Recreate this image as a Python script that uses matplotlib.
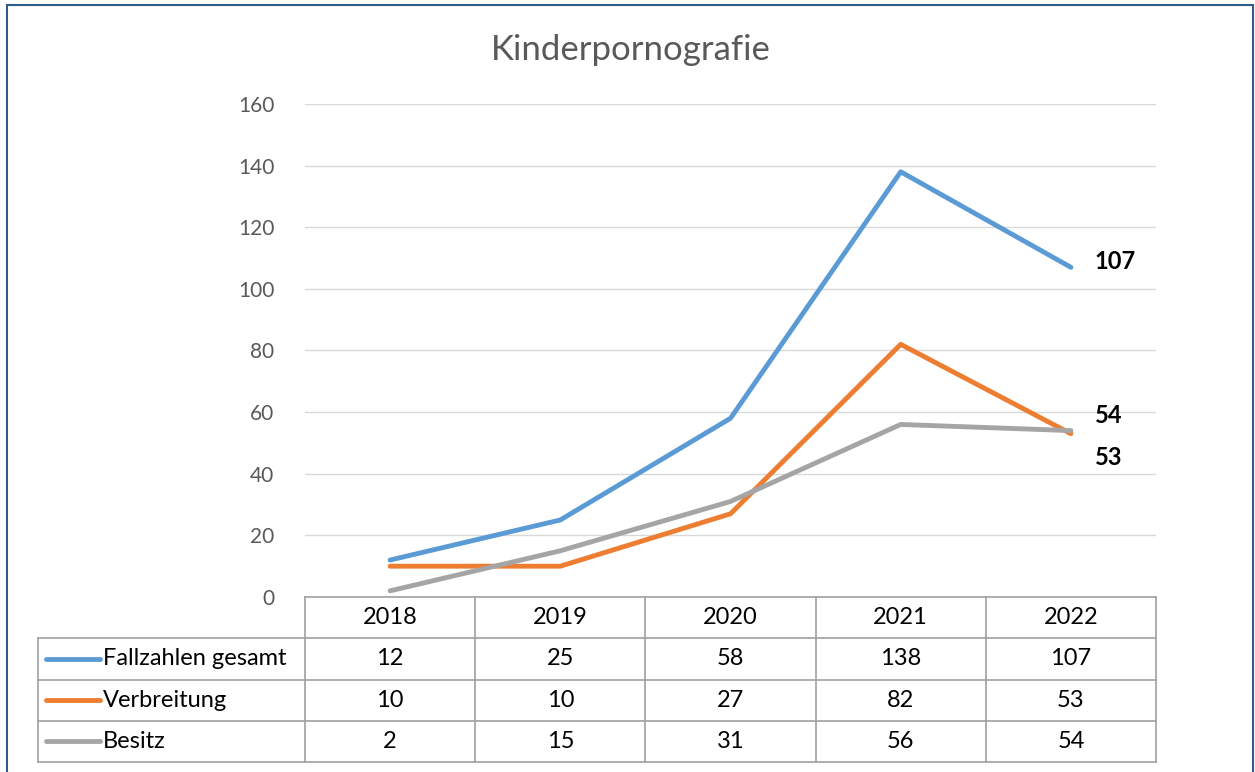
import matplotlib.pyplot as plt
from matplotlib.patches import Rectangle

# Daten
jahre = ['2018', '2019', '2020', '2021', '2022']
fallzahlen = [12, 25, 58, 138, 107]
verbreitung = [10, 10, 27, 82, 53]
besitz = [2, 15, 31, 56, 54]
reihen_namen = ['Fallzahlen gesamt', 'Verbreitung', 'Besitz']
reihen_werte = [fallzahlen, verbreitung, besitz]
farben = ['#5B9BD5', '#ED7D31', '#A5A5A5']
y_ticks = [0, 20, 40, 60, 80, 100, 120, 140, 160]

plt.rcParams['font.family'] = ['Lato', 'DejaVu Sans']

W, H = 1255, 772
fig = plt.figure(figsize=(W / 100, H / 100), dpi=100)

# Rahmen um das Diagramm
fig.add_artist(Rectangle((7 / W, -0.01), (1253 - 7) / W, 1.01 - 5 / H,
                         transform=fig.transFigure, fill=False,
                         edgecolor='#2E5C8A', linewidth=1.5))

# Diagrammbereich
ax = fig.add_axes([305 / W, (H - 597) / H, (1156 - 305) / W, (597 - 104) / H])
x = list(range(len(jahre)))
for werte, farbe in zip(reihen_werte, farben):
    ax.plot(x, werte, color=farbe, linewidth=3.5, solid_capstyle='round', zorder=3)

ax.set_xlim(-0.5, len(jahre) - 0.5)
ax.set_ylim(0, 160)
ax.set_yticks(y_ticks)
ax.set_xticks([])
ax.yaxis.grid(True, color='#D9D9D9', linewidth=1)
ax.set_axisbelow(True)
for s in ax.spines.values():
    s.set_visible(False)
ax.tick_params(axis='y', length=0, pad=22, labelsize=15, labelcolor='#595959')

# Datenbeschriftungen am letzten Punkt
letzter = len(jahre) - 1
offsets = [6, -24, 15]
for werte, dy in zip(reihen_werte, offsets):
    ax.annotate(str(werte[letzter]), (letzter, werte[letzter]),
                xytext=(24, dy), textcoords='offset pixels',
                ha='left', va='center', fontsize=17, fontweight='bold',
                color='black')

fig.text(631 / W, 1 - 50 / H, 'Kinderpornografie', ha='center', va='center',
         fontsize=25, color='#595959')

# Datentabelle
schritt = (1156 - 305) / len(jahre)
links = -0.5 - (305 - 38) / schritt
tab = fig.add_axes([38 / W, (H - 762) / H, (1156 - 38) / W, (762 - 597) / H])
tab.set_xlim(links, len(jahre) - 0.5)
tab.set_ylim(4, 0)
tab.axis('off')
linie = dict(color='#A0A0A0', linewidth=1.2, clip_on=False)

tab.plot([-0.5, len(jahre) - 0.5], [0, 0], **linie)
for r in range(1, 5):
    tab.plot([links, len(jahre) - 0.5], [r, r], **linie)
for c in range(len(jahre) + 1):
    tab.plot([c - 0.5, c - 0.5], [0, 4], **linie)
tab.plot([links, links], [1, 4], **linie)

for i, j in enumerate(jahre):
    tab.text(i, 0.5, j, ha='center', va='center', fontsize=17, color='black')

for r, (name, werte, farbe) in enumerate(zip(reihen_namen, reihen_werte, farben), start=1):
    tab.plot([links + 8 / schritt, links + 62 / schritt], [r + 0.5, r + 0.5],
             color=farbe, linewidth=3.5, solid_capstyle='round', clip_on=False)
    tab.text(links + 65 / schritt, r + 0.5, name, ha='left', va='center',
             fontsize=17, color='black')
    for i, v in enumerate(werte):
        tab.text(i, r + 0.5, str(v), ha='center', va='center', fontsize=17,
                 color='black')

fig.savefig('out.png', dpi=100)
